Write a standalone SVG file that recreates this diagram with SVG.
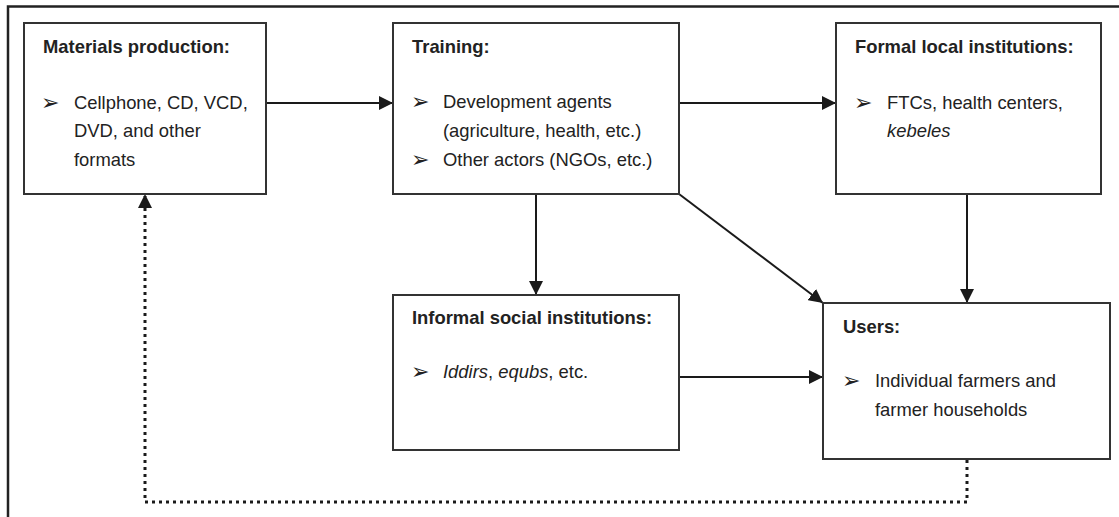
<svg xmlns="http://www.w3.org/2000/svg" width="1119" height="517" viewBox="0 0 1119 517">
<defs>
<marker id="ah" markerUnits="userSpaceOnUse" markerWidth="15" markerHeight="14" refX="14" refY="7" orient="auto">
<path d="M0,0 L14,7 L0,14 z" fill="#1a1a1a"/>
</marker>
</defs>
<style>
.box{fill:#fff;stroke:#333;stroke-width:2}
.t{font-family:"Liberation Sans",Arial,sans-serif;font-size:18.4px;fill:#222}
.h{font-weight:bold}
.b{font-family:"DejaVu Sans",sans-serif;font-size:22px;fill:#222}
.c{fill:none;stroke:#1a1a1a;stroke-width:2}
.d{fill:none;stroke:#1a1a1a;stroke-width:3;stroke-dasharray:3 4}
</style>
<rect width="1119" height="517" fill="#fff"/>
<path d="M8,517 V6.5 H1119" fill="none" stroke="#222" stroke-width="2.5"/>
<g id="connectors">
<path class="c" d="M266,103 H393" marker-end="url(#ah)"/>
<path class="c" d="M679,103 H836" marker-end="url(#ah)"/>
<path class="c" d="M536,194 V295" marker-end="url(#ah)"/>
<path class="c" d="M679,194 L823,303" marker-end="url(#ah)"/>
<path class="c" d="M967,194 V303" marker-end="url(#ah)"/>
<path class="c" d="M679,377 H823" marker-end="url(#ah)"/>
<path class="d" d="M967,460 V502 H145 V196"/>
<path d="M138,208 L145,194 L152,208 z" fill="#1a1a1a"/>
</g>
<g id="materials">
<rect class="box" x="24" y="23" width="242" height="171"/>
<text class="t h" x="43" y="53">Materials production:</text>
<text class="b" x="41" y="110">➢</text>
<text class="t" x="74" y="109">Cellphone, CD, VCD,</text>
<text class="t" x="74" y="137">DVD, and other</text>
<text class="t" x="74" y="166">formats</text>
</g>
<g id="training">
<rect class="box" x="393" y="23" width="286" height="171"/>
<text class="t h" x="412" y="53">Training:</text>
<text class="b" x="411" y="109">➢</text>
<text class="t" x="443" y="108">Development agents</text>
<text class="t" x="443" y="137">(agriculture, health, etc.)</text>
<text class="b" x="411" y="167">➢</text>
<text class="t" x="443" y="166">Other actors (NGOs, etc.)</text>
</g>
<g id="formal">
<rect class="box" x="836" y="23" width="265" height="171"/>
<text class="t h" x="855" y="53">Formal local institutions:</text>
<text class="b" x="854" y="110">➢</text>
<text class="t" x="887" y="109">FTCs, health centers,</text>
<text class="t" x="887" y="137" font-style="italic">kebeles</text>
</g>
<g id="informal">
<rect class="box" x="393" y="295" width="286" height="155"/>
<text class="t h" x="412" y="324">Informal social institutions:</text>
<text class="b" x="411" y="379">➢</text>
<text class="t" x="443" y="378"><tspan font-style="italic">Iddirs</tspan>, <tspan font-style="italic">equbs</tspan>, etc.</text>
</g>
<g id="users">
<rect class="box" x="823" y="303" width="287" height="156"/>
<text class="t h" x="843" y="333">Users:</text>
<text class="b" x="842" y="388">➢</text>
<text class="t" x="875" y="387">Individual farmers and</text>
<text class="t" x="875" y="416">farmer households</text>
</g>
</svg>
